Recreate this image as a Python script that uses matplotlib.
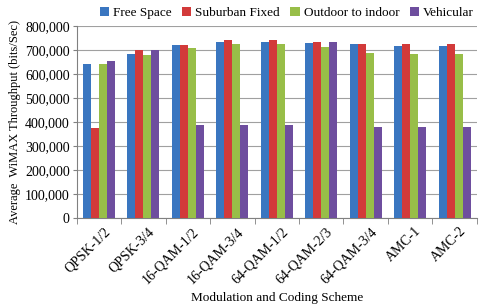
import numpy as np
import matplotlib
matplotlib.use("Agg")
import matplotlib.pyplot as plt
from matplotlib.ticker import FuncFormatter

plt.rcParams['font.family'] = ['Liberation Serif', 'DejaVu Serif']

# Data
schemes = ["QPSK-1/2", "QPSK-3/4", "16-QAM-1/2", "16-QAM-3/4", "64-QAM-1/2",
           "64-QAM-2/3", "64-QAM-3/4", "AMC-1", "AMC-2"]
free_space = [642000, 684000, 720000, 735000, 733000, 729000, 723000, 718000, 718000]
suburban = [375000, 698000, 720000, 740000, 740000, 733000, 723000, 725000, 725000]
outdoor = [640000, 678000, 710000, 725000, 725000, 711000, 688000, 682000, 682000]
vehicular = [653000, 698000, 386000, 386000, 386000, 733000, 380000, 380000, 380000]

series = [("Free Space", free_space, "#3a76c0"),
          ("Suburban Fixed", suburban, "#d23a3a"),
          ("Outdoor to indoor", outdoor, "#98be48"),
          ("Vehicular", vehicular, "#6e4e9e")]

fig = plt.figure(figsize=(4.89, 3.06), dpi=100)
ax = fig.add_axes([0.157, 0.288, 0.818, 0.627])

x = np.arange(len(schemes))
w = 0.18
for i, (name, vals, col) in enumerate(series):
    ax.bar(x + (i - 1.5) * w, vals, w, color=col, label=name, zorder=3)

ax.set_xlim(-0.5, len(schemes) - 0.5)
ax.set_ylim(0, 800000)
ax.set_yticks(np.arange(0, 800001, 100000))
ax.yaxis.set_major_formatter(FuncFormatter(lambda v, p: f"{int(v):,}"))
ax.yaxis.grid(True, color="#a0a0a0", linewidth=0.8, zorder=0)

ax.set_xticks(x + 0.1)
ax.set_xticklabels(schemes, rotation=45, ha="right", rotation_mode="anchor")
ax.tick_params(axis="x", length=0, labelsize=10, pad=5)
ax.set_xticks(np.arange(-0.5, len(schemes)), minor=True)
ax.tick_params(axis="x", which="minor", length=4, color="#808080")
ax.tick_params(axis="y", labelsize=10, length=3, color="#808080", pad=2)

for s in ["top", "right"]:
    ax.spines[s].set_visible(False)
ax.spines["left"].set_color("#808080")
ax.spines["bottom"].set_color("#808080")

ax.set_ylabel("Average  WiMAX Throughput (bits/Sec)", fontsize=9, labelpad=3)
ax.set_xlabel("Modulation and Coding Scheme", fontsize=9.5, labelpad=4)

ax.legend(loc="lower center", bbox_to_anchor=(0.525, 1.0), ncol=4, frameon=False,
          fontsize=9.5, handlelength=0.7, handleheight=0.7, handletextpad=0.3,
          columnspacing=0.8, borderaxespad=0.1)

fig.savefig("out.png", dpi=100)
